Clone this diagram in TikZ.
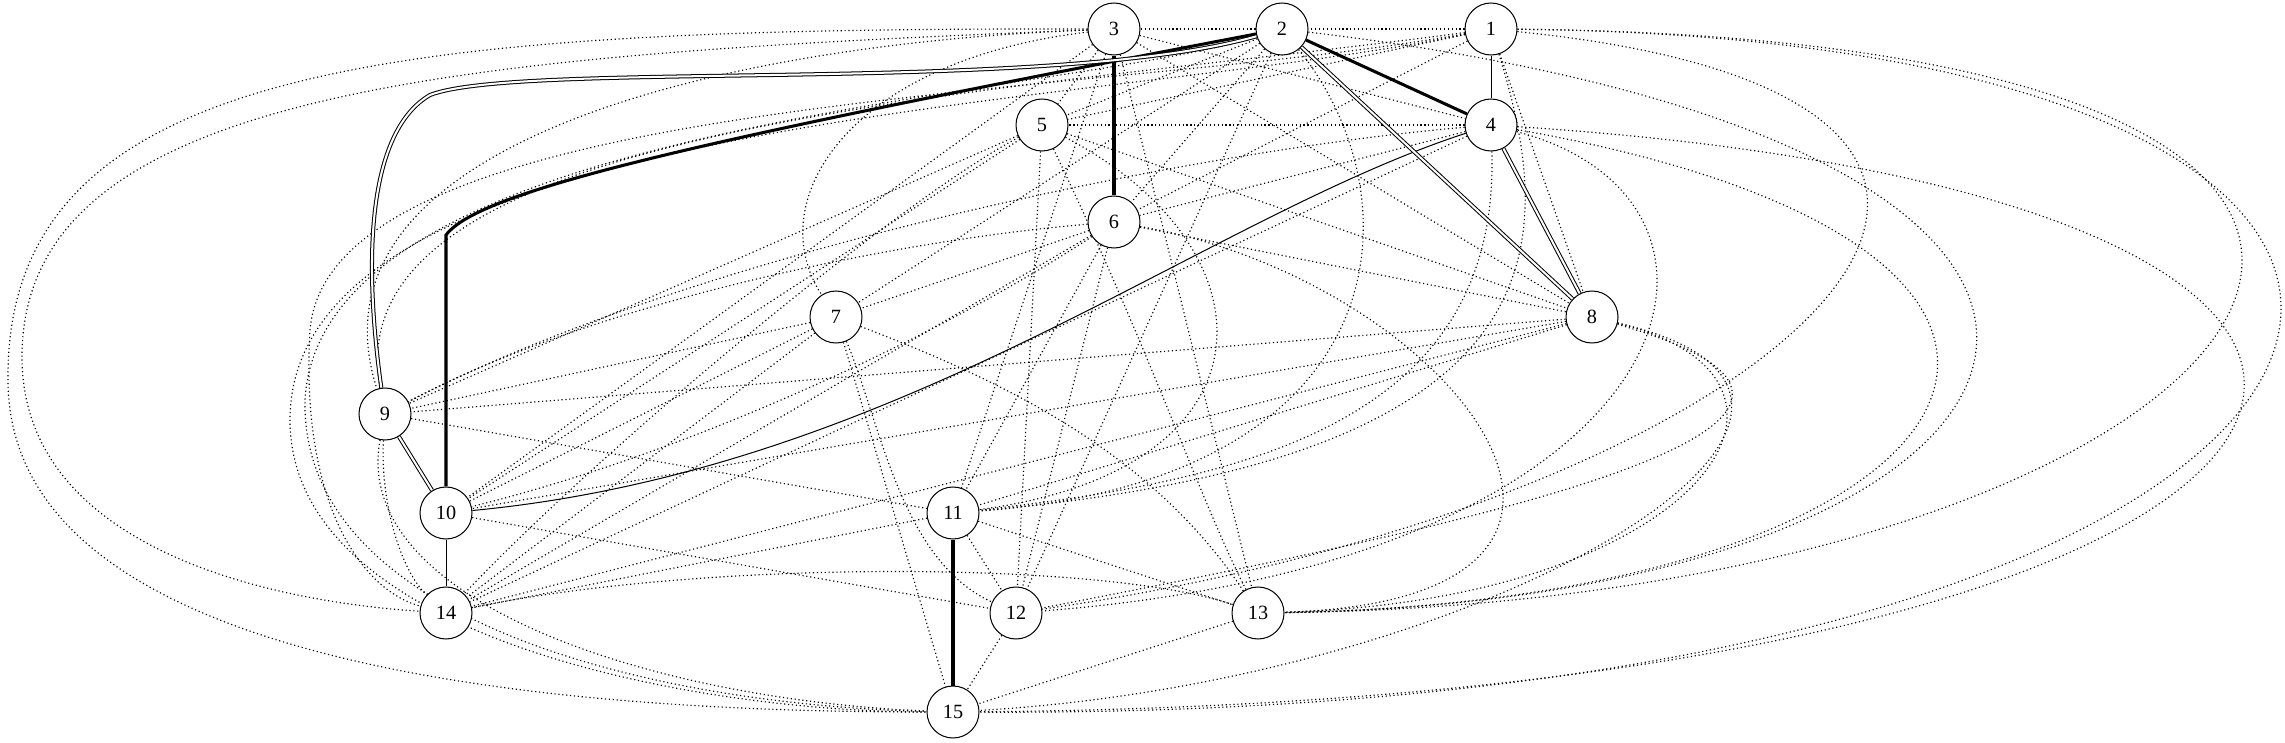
\documentclass[tikz,border=0pt]{standalone}
\usepackage{fontspec}
\setmainfont{Liberation Serif}
\usetikzlibrary{backgrounds}

\begin{document}
\begin{tikzpicture}[x=0.6923pt, y=-0.6923pt]
\useasboundingbox (0, 0) rectangle (2285, 743);

\begin{scope}[
    every node/.style={circle,draw=black,fill=white,line width=0.7pt,
                       minimum size=36pt,inner sep=0pt,
                       font=\fontsize{14}{16}\selectfont}]
    \node (1) at (1491, 29) {1};
    \node (2) at (1282, 29) {2};
    \node (3) at (1114, 29) {3};

    % % 2nd row
    \node (4) at (1491, 125) {4};
    \node (5) at (1042, 125) {5};
    \node (6) at (1114, 222) {6};

    % % middle
    \node (7) at (836, 317) {7};
    \node (8) at (1592, 317) {8};
    \node (9) at (385, 414) {9};
    \node (10) at (446, 513) {10};
    \node (11) at (953, 513) {11};

    % % bottom
    \node (12) at (1016, 613) {12};
    \node (13) at (1258, 613) {13};
    \node (14) at (446, 613) {14};
    \node (15) at (953, 712) {15};
\end{scope}

% dotted links
\begin{scope}[on background layer,
              gap/.style={line width=0.8pt,dash pattern=on 0.8pt off 1.9pt},
              every edge/.style={draw,gap}]
    \path (1) edge (2);
    \path (2) edge (3);
    \path (1) edge (5);
    \path (1) edge (6);
    \path (1) edge (8);
    \path (2) edge (5);
    \path (2) edge (6);
    \path (2) edge (7);
    \path (2) edge (12);
    \path (3) edge (4);
    \path (3) edge (5);
    \path (3) edge (8);
    \path (3) edge (10);
    \path (3) edge (11);
    \path (3) edge (13);
    \path (4) edge (5);
    \path (4) edge (6);
    \path (4) edge (14);
    \path (5) edge (8);
    \path (5) edge (9);
    \path (5) edge (10);
    \path (5) edge (12);
    \path (6) edge (7);
    \path (6) edge (8);
    \path (6) edge (11);
    \path (6) edge (12);
    \path (6) edge (14);
    \path (7) edge (9);
    \path (7) edge (10);
    \path (7) edge (14);
    \path (7) edge (15);
    \path (8) edge (9);
    \path (8) edge (10);
    \path (8) edge (11);
    \path (8) edge (14);
    \path (9) edge (11);
    \path (10) edge (12);
    \path (11) edge (12);
    \path (11) edge (13);
    \path (11) edge (14);
    \path (12) edge (15);
    \path (13) edge (15);

    % long ones bent round the others
    \draw [gap] (1) .. controls (2700, 40) and (2500, 720) .. (15);
    \draw [gap] (1) .. controls (2700, 40) and (2300, 600) .. (13);
    \draw [gap] (1) .. controls (2200, 100) and (1800, 500) .. (12);
    \draw [gap] (1) .. controls (1560, 250) and (1560, 460) .. (11);
    \draw [gap] (1) .. controls (1100, 110) and (290, 110) .. (290, 420)
                    .. controls (290, 640) and (700, 712) .. (15);
    \draw [gap] (1) .. controls (1100, 100) and (330, 90) .. (310, 330)
                    .. controls (300, 500) and (360, 590) .. (14);
    \draw [gap] (1) .. controls (1000, 95) and (330, 120) .. (9);
    \draw [gap] (2) .. controls (1420, 200) and (1400, 480) .. (11);
    \draw [gap] (2) .. controls (2300, 150) and (2100, 600) .. (13);
    \draw [gap] (2) .. controls (1050, 100) and (320, 120) .. (305, 400)
                    .. controls (300, 620) and (650, 705) .. (15);
    \draw [gap] (3) .. controls (850, 60) and (760, 200) .. (7);
    \draw [gap] (3) .. controls (700, 45) and (300, 150) .. (9);
    \draw [gap] (3) .. controls (450, 55) and (22, 90) .. (22, 357)
                    .. controls (22, 540) and (250, 600) .. (14);
    \draw [gap] (3) .. controls (400, 28) and (5, 60) .. (8, 380)
                    .. controls (8, 640) and (450, 712) .. (15);
    \draw [gap] (4) .. controls (1200, 150) and (700, 250) .. (9);
    \draw [gap] (4) .. controls (1500, 420) and (1250, 480) .. (11);
    \draw [gap] (4) .. controls (1780, 200) and (1700, 560) .. (12);
    \draw [gap] (4) .. controls (2200, 250) and (2000, 600) .. (13);
    \draw [gap] (4) .. controls (2650, 200) and (2450, 700) .. (15);
    \draw [gap] (5) .. controls (1280, 250) and (1280, 470) .. (11);
    \draw [gap] (5) .. controls (1150, 350) and (1200, 500) .. (13);
    \draw [gap] (5) .. controls (900, 200) and (600, 450) .. (14);
    \draw [gap] (6) .. controls (900, 240) and (600, 300) .. (9);
    \draw [gap] (6) .. controls (950, 330) and (700, 450) .. (10);
    \draw [gap] (6) .. controls (1450, 280) and (1700, 600) .. (13);
    \draw [gap] (7) .. controls (880, 420) and (900, 560) .. (12);
    \draw [gap] (7) .. controls (1000, 380) and (1150, 450) .. (13);
    \draw [gap] (8) .. controls (1950, 420) and (1500, 520) .. (12);
    \draw [gap] (8) .. controls (1850, 380) and (1700, 600) .. (13);
    \draw [gap] (8) .. controls (1950, 400) and (1500, 680) .. (15);
    \draw [gap] (9) .. controls (380, 500) and (400, 570) .. (14);
    \draw [gap] (9) .. controls (350, 600) and (650, 700) .. (15);
    \draw [gap] (14) .. controls (700, 560) and (1100, 560) .. (13);
\end{scope}

% solid links
\begin{scope}[on background layer,
              plain/.style={draw,line width=0.7pt},
              heavy/.style={draw,line width=2.1pt},
              twin/.style={draw,line width=0.7pt,double=white,double distance=1.4pt}]
    \draw [plain] (1) -- (4);
    \draw [plain] (10) -- (14);
    \draw [plain] (4) .. controls (1200, 220) and (900, 470) .. (10);

    \draw [heavy] (2) -- (4);
    \draw [heavy] (3) -- (6);
    \draw [heavy] (11) -- (15);
    \draw [heavy] (2) .. controls (700, 140) and (480, 190) .. (446, 235) -- (10);

    \draw [twin] (2) -- (8);
    \draw [twin] (4) -- (8);
    \draw [twin] (9) -- (10);
    \draw [twin] (2) .. controls (1050, 95) and (520, 60) .. (430, 95)
                     .. controls (370, 130) and (362, 250) .. (9);
\end{scope}
\end{tikzpicture}
\end{document}
